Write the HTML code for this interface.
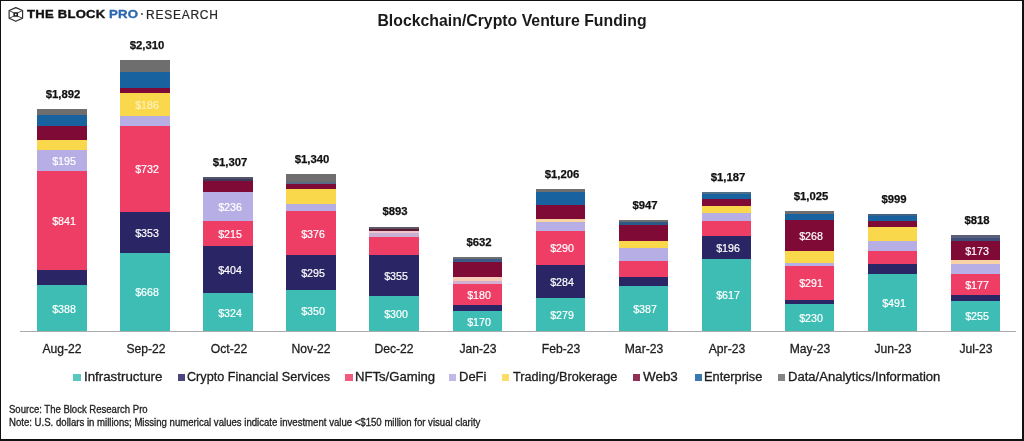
<!DOCTYPE html>
<html><head><meta charset="utf-8"><style>
html,body{margin:0;padding:0;}
body{width:1024px;height:441px;position:relative;overflow:hidden;background:#fff;font-family:"Liberation Sans", sans-serif;}
.frame{position:absolute;left:0;top:0;width:1024px;height:441px;box-sizing:border-box;border-style:solid;border-color:#111;border-width:1px 2px 2px 1px;}
.wrap{position:absolute;left:0;top:0;width:1024px;height:441px;filter:blur(0.4px);}
.s{position:absolute;}
.t{position:absolute;line-height:1;white-space:nowrap;}
</style></head><body>
<div class="wrap">
<div class="s" style="left:37.20px;top:109.00px;width:49.6px;height:222.00px;background:#6e6e6e"></div>
<div class="s" style="left:37.20px;top:114.80px;width:49.6px;height:216.20px;background:#17629f"></div>
<div class="s" style="left:37.20px;top:125.60px;width:49.6px;height:205.40px;background:#7f0a36"></div>
<div class="s" style="left:37.20px;top:139.90px;width:49.6px;height:191.10px;background:#fad84c"></div>
<div class="s" style="left:37.20px;top:149.80px;width:49.6px;height:181.20px;background:#b6aee4"></div>
<div class="s" style="left:37.20px;top:170.90px;width:49.6px;height:160.10px;background:#ee3e66"></div>
<div class="s" style="left:37.20px;top:270.40px;width:49.6px;height:60.60px;background:#2a2565"></div>
<div class="s" style="left:37.20px;top:285.40px;width:49.6px;height:45.60px;background:#3dbdb3"></div>
<div class="t" style="left:-136.20px;top:302.68px;width:400px;text-align:center;font-size:11.6px;font-weight:normal;color:#fff;letter-spacing:0px;transform:scaleX(0.92);transform-origin:center top;-webkit-text-stroke:0.2px #fff;">$388</div>
<div class="t" style="left:-136.20px;top:215.13px;width:400px;text-align:center;font-size:11.6px;font-weight:normal;color:#fff;letter-spacing:0px;transform:scaleX(0.92);transform-origin:center top;-webkit-text-stroke:0.2px #fff;">$841</div>
<div class="t" style="left:-136.20px;top:154.83px;width:400px;text-align:center;font-size:11.6px;font-weight:normal;color:#fff;letter-spacing:0px;transform:scaleX(0.92);transform-origin:center top;-webkit-text-stroke:0.2px #fff;">$195</div>
<div class="t" style="left:-136.60px;top:88.89px;width:400px;text-align:center;font-size:11px;font-weight:bold;color:#111;letter-spacing:0px;transform:scaleX(1.03);transform-origin:center top;-webkit-text-stroke:0.25px #111;">$1,892</div>
<div class="t" style="left:-137.60px;top:341.87px;width:400px;text-align:center;font-size:13.5px;font-weight:normal;color:#1c1c1c;letter-spacing:0px;transform:scaleX(0.9);transform-origin:center top;-webkit-text-stroke:0.3px #1c1c1c;">Aug-22</div>
<div class="s" style="left:120.30px;top:60.10px;width:49.6px;height:270.90px;background:#6e6e6e"></div>
<div class="s" style="left:120.30px;top:72.20px;width:49.6px;height:258.80px;background:#17629f"></div>
<div class="s" style="left:120.30px;top:87.70px;width:49.6px;height:243.30px;background:#7f0a36"></div>
<div class="s" style="left:120.30px;top:93.10px;width:49.6px;height:237.90px;background:#fad84c"></div>
<div class="s" style="left:120.30px;top:115.80px;width:49.6px;height:215.20px;background:#b6aee4"></div>
<div class="s" style="left:120.30px;top:125.80px;width:49.6px;height:205.20px;background:#ee3e66"></div>
<div class="s" style="left:120.30px;top:211.60px;width:49.6px;height:119.40px;background:#2a2565"></div>
<div class="s" style="left:120.30px;top:252.50px;width:49.6px;height:78.50px;background:#3dbdb3"></div>
<div class="t" style="left:-53.10px;top:286.23px;width:400px;text-align:center;font-size:11.6px;font-weight:normal;color:#fff;letter-spacing:0px;transform:scaleX(0.92);transform-origin:center top;-webkit-text-stroke:0.2px #fff;">$668</div>
<div class="t" style="left:-53.10px;top:226.53px;width:400px;text-align:center;font-size:11.6px;font-weight:normal;color:#fff;letter-spacing:0px;transform:scaleX(0.92);transform-origin:center top;-webkit-text-stroke:0.2px #fff;">$353</div>
<div class="t" style="left:-53.10px;top:163.18px;width:400px;text-align:center;font-size:11.6px;font-weight:normal;color:#fff;letter-spacing:0px;transform:scaleX(0.92);transform-origin:center top;-webkit-text-stroke:0.2px #fff;">$732</div>
<div class="t" style="left:-53.10px;top:98.93px;width:400px;text-align:center;font-size:11.6px;font-weight:normal;color:#fdf0b8;letter-spacing:0px;transform:scaleX(0.92);transform-origin:center top;-webkit-text-stroke:0.2px #fdf0b8;">$186</div>
<div class="t" style="left:-53.50px;top:39.99px;width:400px;text-align:center;font-size:11px;font-weight:bold;color:#111;letter-spacing:0px;transform:scaleX(1.03);transform-origin:center top;-webkit-text-stroke:0.25px #111;">$2,310</div>
<div class="t" style="left:-54.50px;top:341.87px;width:400px;text-align:center;font-size:13.5px;font-weight:normal;color:#1c1c1c;letter-spacing:0px;transform:scaleX(0.9);transform-origin:center top;-webkit-text-stroke:0.3px #1c1c1c;">Sep-22</div>
<div class="s" style="left:203.30px;top:177.30px;width:49.6px;height:153.70px;background:#55556a"></div>
<div class="s" style="left:203.30px;top:178.60px;width:49.6px;height:152.40px;background:#3d3a5e"></div>
<div class="s" style="left:203.30px;top:181.00px;width:49.6px;height:150.00px;background:#7f0a36"></div>
<div class="s" style="left:203.30px;top:191.80px;width:49.6px;height:139.20px;background:#b6aee4"></div>
<div class="s" style="left:203.30px;top:220.60px;width:49.6px;height:110.40px;background:#ee3e66"></div>
<div class="s" style="left:203.30px;top:245.60px;width:49.6px;height:85.40px;background:#2a2565"></div>
<div class="s" style="left:203.30px;top:293.40px;width:49.6px;height:37.60px;background:#3dbdb3"></div>
<div class="t" style="left:29.90px;top:306.68px;width:400px;text-align:center;font-size:11.6px;font-weight:normal;color:#fff;letter-spacing:0px;transform:scaleX(0.92);transform-origin:center top;-webkit-text-stroke:0.2px #fff;">$324</div>
<div class="t" style="left:29.90px;top:263.98px;width:400px;text-align:center;font-size:11.6px;font-weight:normal;color:#fff;letter-spacing:0px;transform:scaleX(0.92);transform-origin:center top;-webkit-text-stroke:0.2px #fff;">$404</div>
<div class="t" style="left:29.90px;top:227.58px;width:400px;text-align:center;font-size:11.6px;font-weight:normal;color:#fff;letter-spacing:0px;transform:scaleX(0.92);transform-origin:center top;-webkit-text-stroke:0.2px #fff;">$215</div>
<div class="t" style="left:29.90px;top:200.68px;width:400px;text-align:center;font-size:11.6px;font-weight:normal;color:#fff;letter-spacing:0px;transform:scaleX(0.92);transform-origin:center top;-webkit-text-stroke:0.2px #fff;">$236</div>
<div class="t" style="left:29.50px;top:157.19px;width:400px;text-align:center;font-size:11px;font-weight:bold;color:#111;letter-spacing:0px;transform:scaleX(1.03);transform-origin:center top;-webkit-text-stroke:0.25px #111;">$1,307</div>
<div class="t" style="left:28.50px;top:341.87px;width:400px;text-align:center;font-size:13.5px;font-weight:normal;color:#1c1c1c;letter-spacing:0px;transform:scaleX(0.9);transform-origin:center top;-webkit-text-stroke:0.3px #1c1c1c;">Oct-22</div>
<div class="s" style="left:286.10px;top:174.00px;width:49.6px;height:157.00px;background:#6e6e6e"></div>
<div class="s" style="left:286.10px;top:181.60px;width:49.6px;height:149.40px;background:#596a84"></div>
<div class="s" style="left:286.10px;top:184.30px;width:49.6px;height:146.70px;background:#7f0a36"></div>
<div class="s" style="left:286.10px;top:188.70px;width:49.6px;height:142.30px;background:#fad84c"></div>
<div class="s" style="left:286.10px;top:204.00px;width:49.6px;height:127.00px;background:#b6aee4"></div>
<div class="s" style="left:286.10px;top:211.30px;width:49.6px;height:119.70px;background:#ee3e66"></div>
<div class="s" style="left:286.10px;top:255.40px;width:49.6px;height:75.60px;background:#2a2565"></div>
<div class="s" style="left:286.10px;top:290.00px;width:49.6px;height:41.00px;background:#3dbdb3"></div>
<div class="t" style="left:112.70px;top:304.98px;width:400px;text-align:center;font-size:11.6px;font-weight:normal;color:#fff;letter-spacing:0px;transform:scaleX(0.92);transform-origin:center top;-webkit-text-stroke:0.2px #fff;">$350</div>
<div class="t" style="left:112.70px;top:267.18px;width:400px;text-align:center;font-size:11.6px;font-weight:normal;color:#fff;letter-spacing:0px;transform:scaleX(0.92);transform-origin:center top;-webkit-text-stroke:0.2px #fff;">$295</div>
<div class="t" style="left:112.70px;top:227.83px;width:400px;text-align:center;font-size:11.6px;font-weight:normal;color:#fff;letter-spacing:0px;transform:scaleX(0.92);transform-origin:center top;-webkit-text-stroke:0.2px #fff;">$376</div>
<div class="t" style="left:112.30px;top:153.89px;width:400px;text-align:center;font-size:11px;font-weight:bold;color:#111;letter-spacing:0px;transform:scaleX(1.03);transform-origin:center top;-webkit-text-stroke:0.25px #111;">$1,340</div>
<div class="t" style="left:111.30px;top:341.87px;width:400px;text-align:center;font-size:13.5px;font-weight:normal;color:#1c1c1c;letter-spacing:0px;transform:scaleX(0.9);transform-origin:center top;-webkit-text-stroke:0.3px #1c1c1c;">Nov-22</div>
<div class="s" style="left:369.00px;top:226.60px;width:49.6px;height:104.40px;background:#5e5566"></div>
<div class="s" style="left:369.00px;top:229.00px;width:49.6px;height:102.00px;background:#5a1a30"></div>
<div class="s" style="left:369.00px;top:231.30px;width:49.6px;height:99.70px;background:#f0c4cf"></div>
<div class="s" style="left:369.00px;top:232.80px;width:49.6px;height:98.20px;background:#c9b1d6"></div>
<div class="s" style="left:369.00px;top:237.20px;width:49.6px;height:93.80px;background:#ee3e66"></div>
<div class="s" style="left:369.00px;top:254.60px;width:49.6px;height:76.40px;background:#2a2565"></div>
<div class="s" style="left:369.00px;top:295.80px;width:49.6px;height:35.20px;background:#3dbdb3"></div>
<div class="t" style="left:195.60px;top:307.88px;width:400px;text-align:center;font-size:11.6px;font-weight:normal;color:#fff;letter-spacing:0px;transform:scaleX(0.92);transform-origin:center top;-webkit-text-stroke:0.2px #fff;">$300</div>
<div class="t" style="left:195.60px;top:269.68px;width:400px;text-align:center;font-size:11.6px;font-weight:normal;color:#fff;letter-spacing:0px;transform:scaleX(0.92);transform-origin:center top;-webkit-text-stroke:0.2px #fff;">$355</div>
<div class="t" style="left:195.20px;top:206.49px;width:400px;text-align:center;font-size:11px;font-weight:bold;color:#111;letter-spacing:0px;transform:scaleX(1.03);transform-origin:center top;-webkit-text-stroke:0.25px #111;">$893</div>
<div class="t" style="left:194.20px;top:341.87px;width:400px;text-align:center;font-size:13.5px;font-weight:normal;color:#1c1c1c;letter-spacing:0px;transform:scaleX(0.9);transform-origin:center top;-webkit-text-stroke:0.3px #1c1c1c;">Dec-22</div>
<div class="s" style="left:452.60px;top:257.30px;width:49.6px;height:73.70px;background:#6e6e6e"></div>
<div class="s" style="left:452.60px;top:258.80px;width:49.6px;height:72.20px;background:#3c5a88"></div>
<div class="s" style="left:452.60px;top:261.80px;width:49.6px;height:69.20px;background:#7f0a36"></div>
<div class="s" style="left:452.60px;top:277.20px;width:49.6px;height:53.80px;background:#f8ccb6"></div>
<div class="s" style="left:452.60px;top:281.30px;width:49.6px;height:49.70px;background:#d2b0d2"></div>
<div class="s" style="left:452.60px;top:284.00px;width:49.6px;height:47.00px;background:#ee3e66"></div>
<div class="s" style="left:452.60px;top:305.00px;width:49.6px;height:26.00px;background:#2a2565"></div>
<div class="s" style="left:452.60px;top:311.30px;width:49.6px;height:19.70px;background:#3dbdb3"></div>
<div class="t" style="left:279.20px;top:315.63px;width:400px;text-align:center;font-size:11.6px;font-weight:normal;color:#fff;letter-spacing:0px;transform:scaleX(0.92);transform-origin:center top;-webkit-text-stroke:0.2px #fff;">$170</div>
<div class="t" style="left:279.20px;top:288.98px;width:400px;text-align:center;font-size:11.6px;font-weight:normal;color:#fff;letter-spacing:0px;transform:scaleX(0.92);transform-origin:center top;-webkit-text-stroke:0.2px #fff;">$180</div>
<div class="t" style="left:278.80px;top:237.19px;width:400px;text-align:center;font-size:11px;font-weight:bold;color:#111;letter-spacing:0px;transform:scaleX(1.03);transform-origin:center top;-webkit-text-stroke:0.25px #111;">$632</div>
<div class="t" style="left:277.80px;top:341.87px;width:400px;text-align:center;font-size:13.5px;font-weight:normal;color:#1c1c1c;letter-spacing:0px;transform:scaleX(0.9);transform-origin:center top;-webkit-text-stroke:0.3px #1c1c1c;">Jan-23</div>
<div class="s" style="left:535.60px;top:189.40px;width:49.6px;height:141.60px;background:#6e6e6e"></div>
<div class="s" style="left:535.60px;top:191.80px;width:49.6px;height:139.20px;background:#17629f"></div>
<div class="s" style="left:535.60px;top:204.50px;width:49.6px;height:126.50px;background:#7f0a36"></div>
<div class="s" style="left:535.60px;top:218.70px;width:49.6px;height:112.30px;background:#fad3a2"></div>
<div class="s" style="left:535.60px;top:222.30px;width:49.6px;height:108.70px;background:#b6aee4"></div>
<div class="s" style="left:535.60px;top:230.60px;width:49.6px;height:100.40px;background:#ee3e66"></div>
<div class="s" style="left:535.60px;top:264.80px;width:49.6px;height:66.20px;background:#2a2565"></div>
<div class="s" style="left:535.60px;top:298.20px;width:49.6px;height:32.80px;background:#3dbdb3"></div>
<div class="t" style="left:362.20px;top:309.08px;width:400px;text-align:center;font-size:11.6px;font-weight:normal;color:#fff;letter-spacing:0px;transform:scaleX(0.92);transform-origin:center top;-webkit-text-stroke:0.2px #fff;">$279</div>
<div class="t" style="left:362.20px;top:275.98px;width:400px;text-align:center;font-size:11.6px;font-weight:normal;color:#fff;letter-spacing:0px;transform:scaleX(0.92);transform-origin:center top;-webkit-text-stroke:0.2px #fff;">$284</div>
<div class="t" style="left:362.20px;top:242.18px;width:400px;text-align:center;font-size:11.6px;font-weight:normal;color:#fff;letter-spacing:0px;transform:scaleX(0.92);transform-origin:center top;-webkit-text-stroke:0.2px #fff;">$290</div>
<div class="t" style="left:361.80px;top:169.29px;width:400px;text-align:center;font-size:11px;font-weight:bold;color:#111;letter-spacing:0px;transform:scaleX(1.03);transform-origin:center top;-webkit-text-stroke:0.25px #111;">$1,206</div>
<div class="t" style="left:360.80px;top:341.87px;width:400px;text-align:center;font-size:13.5px;font-weight:normal;color:#1c1c1c;letter-spacing:0px;transform:scaleX(0.9);transform-origin:center top;-webkit-text-stroke:0.3px #1c1c1c;">Feb-23</div>
<div class="s" style="left:618.60px;top:220.30px;width:49.6px;height:110.70px;background:#6e6e6e"></div>
<div class="s" style="left:618.60px;top:221.50px;width:49.6px;height:109.50px;background:#2c5a86"></div>
<div class="s" style="left:618.60px;top:225.20px;width:49.6px;height:105.80px;background:#7f0a36"></div>
<div class="s" style="left:618.60px;top:240.90px;width:49.6px;height:90.10px;background:#fad84c"></div>
<div class="s" style="left:618.60px;top:248.10px;width:49.6px;height:82.90px;background:#b6aee4"></div>
<div class="s" style="left:618.60px;top:260.80px;width:49.6px;height:70.20px;background:#ee3e66"></div>
<div class="s" style="left:618.60px;top:277.20px;width:49.6px;height:53.80px;background:#2a2565"></div>
<div class="s" style="left:618.60px;top:285.60px;width:49.6px;height:45.40px;background:#3dbdb3"></div>
<div class="t" style="left:445.20px;top:302.78px;width:400px;text-align:center;font-size:11.6px;font-weight:normal;color:#fff;letter-spacing:0px;transform:scaleX(0.92);transform-origin:center top;-webkit-text-stroke:0.2px #fff;">$387</div>
<div class="t" style="left:444.80px;top:200.19px;width:400px;text-align:center;font-size:11px;font-weight:bold;color:#111;letter-spacing:0px;transform:scaleX(1.03);transform-origin:center top;-webkit-text-stroke:0.25px #111;">$947</div>
<div class="t" style="left:443.80px;top:341.87px;width:400px;text-align:center;font-size:13.5px;font-weight:normal;color:#1c1c1c;letter-spacing:0px;transform:scaleX(0.9);transform-origin:center top;-webkit-text-stroke:0.3px #1c1c1c;">Mar-23</div>
<div class="s" style="left:701.60px;top:191.90px;width:49.6px;height:139.10px;background:#4d7088"></div>
<div class="s" style="left:701.60px;top:194.10px;width:49.6px;height:136.90px;background:#17629f"></div>
<div class="s" style="left:701.60px;top:199.30px;width:49.6px;height:131.70px;background:#7f0a36"></div>
<div class="s" style="left:701.60px;top:205.80px;width:49.6px;height:125.20px;background:#fad84c"></div>
<div class="s" style="left:701.60px;top:213.10px;width:49.6px;height:117.90px;background:#b6aee4"></div>
<div class="s" style="left:701.60px;top:221.30px;width:49.6px;height:109.70px;background:#ee3e66"></div>
<div class="s" style="left:701.60px;top:235.60px;width:49.6px;height:95.40px;background:#2a2565"></div>
<div class="s" style="left:701.60px;top:258.60px;width:49.6px;height:72.40px;background:#3dbdb3"></div>
<div class="t" style="left:528.20px;top:289.28px;width:400px;text-align:center;font-size:11.6px;font-weight:normal;color:#fff;letter-spacing:0px;transform:scaleX(0.92);transform-origin:center top;-webkit-text-stroke:0.2px #fff;">$617</div>
<div class="t" style="left:528.20px;top:241.58px;width:400px;text-align:center;font-size:11.6px;font-weight:normal;color:#fff;letter-spacing:0px;transform:scaleX(0.92);transform-origin:center top;-webkit-text-stroke:0.2px #fff;">$196</div>
<div class="t" style="left:527.80px;top:171.79px;width:400px;text-align:center;font-size:11px;font-weight:bold;color:#111;letter-spacing:0px;transform:scaleX(1.03);transform-origin:center top;-webkit-text-stroke:0.25px #111;">$1,187</div>
<div class="t" style="left:526.80px;top:341.87px;width:400px;text-align:center;font-size:13.5px;font-weight:normal;color:#1c1c1c;letter-spacing:0px;transform:scaleX(0.9);transform-origin:center top;-webkit-text-stroke:0.3px #1c1c1c;">Apr-23</div>
<div class="s" style="left:784.60px;top:210.90px;width:49.6px;height:120.10px;background:#6e6e6e"></div>
<div class="s" style="left:784.60px;top:214.40px;width:49.6px;height:116.60px;background:#17629f"></div>
<div class="s" style="left:784.60px;top:219.70px;width:49.6px;height:111.30px;background:#7f0a36"></div>
<div class="s" style="left:784.60px;top:251.30px;width:49.6px;height:79.70px;background:#fad84c"></div>
<div class="s" style="left:784.60px;top:262.80px;width:49.6px;height:68.20px;background:#b6aee4"></div>
<div class="s" style="left:784.60px;top:265.80px;width:49.6px;height:65.20px;background:#ee3e66"></div>
<div class="s" style="left:784.60px;top:300.00px;width:49.6px;height:31.00px;background:#2a2565"></div>
<div class="s" style="left:784.60px;top:304.00px;width:49.6px;height:27.00px;background:#3dbdb3"></div>
<div class="t" style="left:611.20px;top:311.98px;width:400px;text-align:center;font-size:11.6px;font-weight:normal;color:#fff;letter-spacing:0px;transform:scaleX(0.92);transform-origin:center top;-webkit-text-stroke:0.2px #fff;">$230</div>
<div class="t" style="left:611.20px;top:277.38px;width:400px;text-align:center;font-size:11.6px;font-weight:normal;color:#fff;letter-spacing:0px;transform:scaleX(0.92);transform-origin:center top;-webkit-text-stroke:0.2px #fff;">$291</div>
<div class="t" style="left:611.20px;top:229.98px;width:400px;text-align:center;font-size:11.6px;font-weight:normal;color:#fff;letter-spacing:0px;transform:scaleX(0.92);transform-origin:center top;-webkit-text-stroke:0.2px #fff;">$268</div>
<div class="t" style="left:610.80px;top:190.79px;width:400px;text-align:center;font-size:11px;font-weight:bold;color:#111;letter-spacing:0px;transform:scaleX(1.03);transform-origin:center top;-webkit-text-stroke:0.25px #111;">$1,025</div>
<div class="t" style="left:609.80px;top:341.87px;width:400px;text-align:center;font-size:13.5px;font-weight:normal;color:#1c1c1c;letter-spacing:0px;transform:scaleX(0.9);transform-origin:center top;-webkit-text-stroke:0.3px #1c1c1c;">May-23</div>
<div class="s" style="left:867.70px;top:214.20px;width:49.6px;height:116.80px;background:#3d6486"></div>
<div class="s" style="left:867.70px;top:215.50px;width:49.6px;height:115.50px;background:#17629f"></div>
<div class="s" style="left:867.70px;top:220.80px;width:49.6px;height:110.20px;background:#7f0a36"></div>
<div class="s" style="left:867.70px;top:226.80px;width:49.6px;height:104.20px;background:#fad84c"></div>
<div class="s" style="left:867.70px;top:241.30px;width:49.6px;height:89.70px;background:#b6aee4"></div>
<div class="s" style="left:867.70px;top:251.30px;width:49.6px;height:79.70px;background:#ee3e66"></div>
<div class="s" style="left:867.70px;top:264.00px;width:49.6px;height:67.00px;background:#2a2565"></div>
<div class="s" style="left:867.70px;top:273.60px;width:49.6px;height:57.40px;background:#3dbdb3"></div>
<div class="t" style="left:694.30px;top:296.78px;width:400px;text-align:center;font-size:11.6px;font-weight:normal;color:#fff;letter-spacing:0px;transform:scaleX(0.92);transform-origin:center top;-webkit-text-stroke:0.2px #fff;">$491</div>
<div class="t" style="left:693.90px;top:194.09px;width:400px;text-align:center;font-size:11px;font-weight:bold;color:#111;letter-spacing:0px;transform:scaleX(1.03);transform-origin:center top;-webkit-text-stroke:0.25px #111;">$999</div>
<div class="t" style="left:692.90px;top:341.87px;width:400px;text-align:center;font-size:13.5px;font-weight:normal;color:#1c1c1c;letter-spacing:0px;transform:scaleX(0.9);transform-origin:center top;-webkit-text-stroke:0.3px #1c1c1c;">Jun-23</div>
<div class="s" style="left:950.60px;top:235.20px;width:49.6px;height:95.80px;background:#5a5e78"></div>
<div class="s" style="left:950.60px;top:238.00px;width:49.6px;height:93.00px;background:#3e4f7a"></div>
<div class="s" style="left:950.60px;top:240.80px;width:49.6px;height:90.20px;background:#7f0a36"></div>
<div class="s" style="left:950.60px;top:260.20px;width:49.6px;height:70.80px;background:#f9d2a6"></div>
<div class="s" style="left:950.60px;top:263.60px;width:49.6px;height:67.40px;background:#b6aee4"></div>
<div class="s" style="left:950.60px;top:274.20px;width:49.6px;height:56.80px;background:#ee3e66"></div>
<div class="s" style="left:950.60px;top:294.50px;width:49.6px;height:36.50px;background:#2a2565"></div>
<div class="s" style="left:950.60px;top:301.00px;width:49.6px;height:30.00px;background:#3dbdb3"></div>
<div class="t" style="left:777.20px;top:310.48px;width:400px;text-align:center;font-size:11.6px;font-weight:normal;color:#fff;letter-spacing:0px;transform:scaleX(0.92);transform-origin:center top;-webkit-text-stroke:0.2px #fff;">$255</div>
<div class="t" style="left:777.20px;top:278.83px;width:400px;text-align:center;font-size:11.6px;font-weight:normal;color:#fff;letter-spacing:0px;transform:scaleX(0.92);transform-origin:center top;-webkit-text-stroke:0.2px #fff;">$177</div>
<div class="t" style="left:777.20px;top:244.98px;width:400px;text-align:center;font-size:11.6px;font-weight:normal;color:#fff;letter-spacing:0px;transform:scaleX(0.92);transform-origin:center top;-webkit-text-stroke:0.2px #fff;">$173</div>
<div class="t" style="left:776.80px;top:215.09px;width:400px;text-align:center;font-size:11px;font-weight:bold;color:#111;letter-spacing:0px;transform:scaleX(1.03);transform-origin:center top;-webkit-text-stroke:0.25px #111;">$818</div>
<div class="t" style="left:775.80px;top:341.87px;width:400px;text-align:center;font-size:13.5px;font-weight:normal;color:#1c1c1c;letter-spacing:0px;transform:scaleX(0.9);transform-origin:center top;-webkit-text-stroke:0.3px #1c1c1c;">Jul-23</div>
<div style="position:absolute;left:20px;top:330.8px;width:996px;height:1px;background:#ababab"></div>
<div class="s" style="left:73.2px;top:373.6px;width:7.4px;height:7.2px;background:#3dbdb3;opacity:0.85"></div>
<div class="t" style="left:83.60px;top:370.92px;width:600px;text-align:left;font-size:12.5px;font-weight:normal;color:#1c1c1c;letter-spacing:0px;transform:scaleX(1.064);transform-origin:left top;-webkit-text-stroke:0.3px #1c1c1c;">Infrastructure</div>
<div class="s" style="left:177.9px;top:373.6px;width:7.4px;height:7.2px;background:#2a2565;opacity:0.85"></div>
<div class="t" style="left:186.80px;top:370.92px;width:600px;text-align:left;font-size:12.5px;font-weight:normal;color:#1c1c1c;letter-spacing:0px;transform:scaleX(1.01);transform-origin:left top;-webkit-text-stroke:0.3px #1c1c1c;">Crypto Financial Services</div>
<div class="s" style="left:345.4px;top:373.6px;width:7.4px;height:7.2px;background:#ee3e66;opacity:0.85"></div>
<div class="t" style="left:354.60px;top:370.92px;width:600px;text-align:left;font-size:12.5px;font-weight:normal;color:#1c1c1c;letter-spacing:0px;transform:scaleX(1.049);transform-origin:left top;-webkit-text-stroke:0.3px #1c1c1c;">NFTs/Gaming</div>
<div class="s" style="left:448.9px;top:373.6px;width:7.4px;height:7.2px;background:#b6aee4;opacity:0.85"></div>
<div class="t" style="left:459.00px;top:370.92px;width:600px;text-align:left;font-size:12.5px;font-weight:normal;color:#1c1c1c;letter-spacing:0px;transform:scaleX(1.039);transform-origin:left top;-webkit-text-stroke:0.3px #1c1c1c;">DeFi</div>
<div class="s" style="left:501.5px;top:373.6px;width:7.4px;height:7.2px;background:#fad84c;opacity:0.85"></div>
<div class="t" style="left:512.60px;top:370.92px;width:600px;text-align:left;font-size:12.5px;font-weight:normal;color:#1c1c1c;letter-spacing:0px;transform:scaleX(1.013);transform-origin:left top;-webkit-text-stroke:0.3px #1c1c1c;">Trading/Brokerage</div>
<div class="s" style="left:632.7px;top:373.6px;width:7.4px;height:7.2px;background:#7f0a36;opacity:0.85"></div>
<div class="t" style="left:642.60px;top:370.92px;width:600px;text-align:left;font-size:12.5px;font-weight:normal;color:#1c1c1c;letter-spacing:0px;transform:scaleX(1.074);transform-origin:left top;-webkit-text-stroke:0.3px #1c1c1c;">Web3</div>
<div class="s" style="left:694.5px;top:373.6px;width:7.4px;height:7.2px;background:#17629f;opacity:0.85"></div>
<div class="t" style="left:703.90px;top:370.92px;width:600px;text-align:left;font-size:12.5px;font-weight:normal;color:#1c1c1c;letter-spacing:0px;transform:scaleX(1.024);transform-origin:left top;-webkit-text-stroke:0.3px #1c1c1c;">Enterprise</div>
<div class="s" style="left:777.6px;top:373.6px;width:7.4px;height:7.2px;background:#6e6e6e;opacity:0.85"></div>
<div class="t" style="left:788.40px;top:370.92px;width:600px;text-align:left;font-size:12.5px;font-weight:normal;color:#1c1c1c;letter-spacing:0px;transform:scaleX(1.044);transform-origin:left top;-webkit-text-stroke:0.3px #1c1c1c;">Data/Analytics/Information</div>
<div class="t" style="left:312.00px;top:11.69px;width:400px;text-align:center;font-size:16.2px;font-weight:bold;color:#1a1a1a;letter-spacing:0px;transform:scaleX(0.978);transform-origin:center top;">Blockchain/Crypto Venture Funding</div>
<div class="t" style="left:9.30px;top:405.43px;width:600px;text-align:left;font-size:10px;font-weight:normal;color:#222;letter-spacing:0px;transform:scaleX(0.953);transform-origin:left top;-webkit-text-stroke:0.3px #222;">Source: The Block Research Pro</div>
<div class="t" style="left:9.30px;top:417.63px;width:600px;text-align:left;font-size:10px;font-weight:normal;color:#222;letter-spacing:0px;transform:scaleX(0.96);transform-origin:left top;-webkit-text-stroke:0.3px #222;">Note: U.S. dollars in millions; Missing numerical values indicate investment value &lt;$150 million for visual clarity</div>
<svg style="position:absolute;left:0;top:0" width="30" height="30" viewBox="0 0 30 30">
<g fill="none" stroke-linejoin="round">
<polygon points="15.8,7.6 22.6,10.5 22.6,18.3 15.8,21.3 9.1,18.3 9.1,10.5" stroke="#2a2a2a" stroke-width="1.15"/>
<g stroke="#3a3a3a" stroke-width="0.95">
<line x1="9.1" y1="10.5" x2="14.2" y2="13.0"/><line x1="22.6" y1="10.5" x2="17.3" y2="13.0"/>
<line x1="9.1" y1="18.3" x2="14.2" y2="16.0"/><line x1="22.6" y1="18.3" x2="17.3" y2="16.0"/>
</g>
<rect x="14.2" y="13.0" width="3.1" height="3.0" stroke="#1a1a1a" stroke-width="1.5"/>
</g></svg>
<div class="t" style="left:26.60px;top:8.99px;width:600px;text-align:left;font-size:11px;font-weight:bold;color:#111;letter-spacing:0.2px;transform:scaleX(1.19);transform-origin:left top;-webkit-text-stroke:0.35px #111;">THE BLOCK</div>
<div class="t" style="left:109.20px;top:8.99px;width:600px;text-align:left;font-size:11px;font-weight:bold;color:#2a66ad;letter-spacing:0.2px;transform:scaleX(1.2);transform-origin:left top;-webkit-text-stroke:0.3px #2a66ad;">PRO</div>
<div style="position:absolute;left:141px;top:13.3px;width:2px;height:2px;border-radius:1px;background:#444"></div>
<div class="t" style="left:146.00px;top:8.84px;width:600px;text-align:left;font-size:12px;font-weight:normal;color:#262626;letter-spacing:0.75px;-webkit-text-stroke:0.2px #262626;">RESEARCH</div>
<div class="frame"></div>
</div>
</body></html>
